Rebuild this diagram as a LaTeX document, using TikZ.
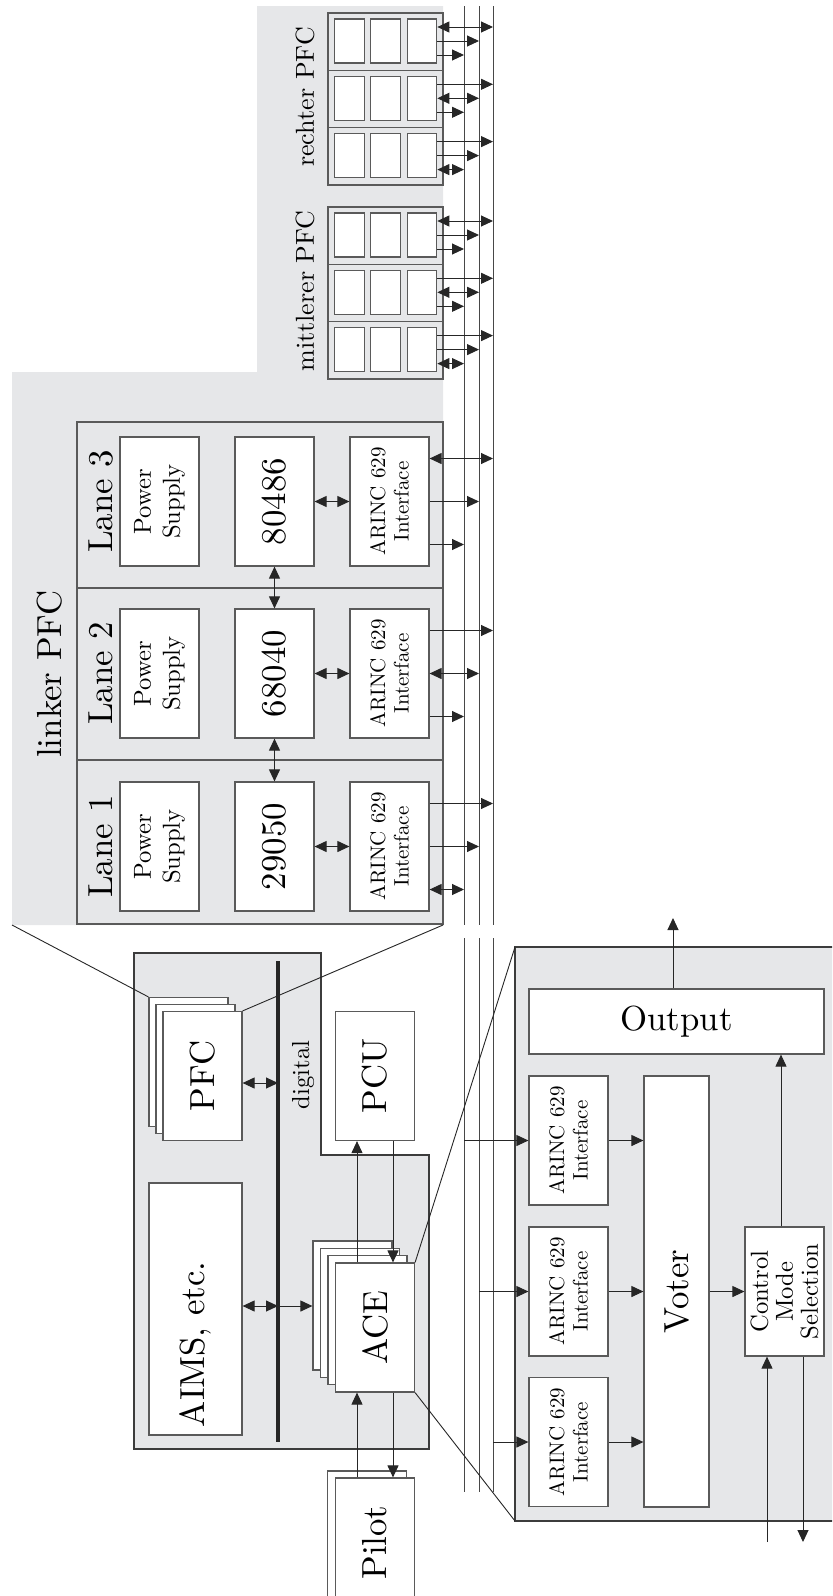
\documentclass[tikz,border=0pt]{standalone}
\usepackage{fontspec}
\setmainfont{lmroman10-regular.otf}
\usepackage{xcolor}
\definecolor{panelgray}{HTML}{E6E7E9}
\definecolor{boxline}{HTML}{5A5A5A}
\definecolor{wire}{HTML}{262626}
\usepackage{tikz}
\usetikzlibrary{arrows.meta}

\newcommand\fsbig{\fontsize{17.4}{20}\selectfont}
\newcommand\fsmid{\fontsize{12.3}{14.5}\selectfont}
\newcommand\fssmall{\fontsize{10.5}{11.7}\selectfont}

\begin{document}
\begin{tikzpicture}[
  x=0.5pt, y=-0.5pt,
  box/.style  ={rectangle,draw=boxline,line width=0.6pt,fill=white,
                inner sep=0pt,align=center},
  unit/.style ={box,rotate=90,minimum width=64.5pt,minimum height=39.5pt},
  cell/.style ={box,minimum width=14.75pt,minimum height=22pt},
  rot/.style  ={rotate=90,inner sep=0pt,align=center},
  frame/.style={draw=boxline,line width=0.6pt,fill=panelgray},
  arr/.style  ={-{Triangle[length=6pt,width=5.5pt]},line width=0.5pt,wire},
  dbl/.style  ={{Triangle[length=6pt,width=5.5pt]}-{Triangle[length=6pt,width=5.5pt]},
                line width=0.5pt,wire},
  busline/.style={line width=0.5pt,wire!85},
  zoomline/.style={line width=0.45pt,wire}
]
\useasboundingbox (0,0) rectangle (832,1596);
\clip (0,0) rectangle (832,1596);

% background of the three PFCs
\fill[panelgray] (257,6) -- (443,6) -- (443,925) coordinate (lpfc-se)
  -- (12,925) coordinate (lpfc-sw) -- (12,372) -- (257,372) -- cycle;

% ARINC 629 buses
\foreach \k/\x in {1/464,2/479,3/493}{
  \coordinate (bus\k) at (\x,6);
  \draw[busline] (\x,6) -- (\x,925) (\x,938) -- (\x,1492);
}

% linker PFC
\node[rot,font=\fsbig] (linker) at (50,674) {linker PFC};
\draw[frame] (77,422) rectangle (443,924);
\draw[boxline,line width=0.6pt] (77,588) -- (443,588) (77,760) -- (443,760);
\foreach \n/\y/\cpu in {1/846.5/29050,2/673.5/68040,3/501.5/80486}{
  \node[rot,font=\fsbig] (lane\n) at (101,\y) {Lane \n};
  \node[unit,font=\fsmid] (ps\n) at (159.5,\y) {Power\\Supply};
  \node[unit,font=\fsbig] (cpu\n) at (274.5,\y) {\cpu};
  \node[unit,font=\fssmall] (arl\n) at (389.5,\y) {ARINC 629\\Interface};
  \draw[dbl] (cpu\n) -- (arl\n);
}
\draw[dbl] (cpu3) -- (cpu2);
\draw[dbl] (cpu2) -- (cpu1);
\foreach \n/\sA/\sB/\sC in {1/arr/arr/dbl,2/arr/dbl/arr,3/dbl/arr/arr}{
  \draw[\sA] ([yshift=21.5pt]arl\n.south) -- ([yshift=21.5pt]arl\n.south -| bus3);
  \draw[\sB] (arl\n.south) -- (arl\n.south -| bus2);
  \draw[\sC] ([yshift=-21.5pt]arl\n.south) -- ([yshift=-21.5pt]arl\n.south -| bus1);
}

% mittlerer and rechter PFC
\foreach \g/\T/\grp in {r/13/rechter PFC,m/207/mittlerer PFC}{
  \node[rot,font=\fontsize{13}{15}\selectfont] (lab\g) at (305,\T+84) {\grp};
  \draw[frame] (328,\T) rectangle (443,\T+172);
  \draw[boxline,line width=0.6pt] (328,\T+57.3) -- (443,\T+57.3)
    (328,\T+114.7) -- (443,\T+114.7);
  \foreach \r/\sA/\sB/\sC in {1/dbl/arr/arr,2/arr/dbl/arr,3/arr/arr/dbl}{
    \pgfmathsetmacro\cy{\T+57.3*(\r-1)+28}
    \node[cell] (\g\r a) at (349.5,\cy) {};
    \node[cell] (\g\r b) at (385.5,\cy) {};
    \node[cell] (\g\r c) at (422,\cy) {};
    \draw[\sA] ([yshift=7pt]\g\r c.east) -- ([yshift=7pt]\g\r c.east -| bus3);
    \draw[\sB] (\g\r c.east) -- (\g\r c.east -| bus2);
    \draw[\sC] ([yshift=-7pt]\g\r c.east) -- ([yshift=-7pt]\g\r c.east -| bus1);
  }
}

% aircraft system
\draw[frame,draw=wire!90] (134,953) -- (321,953) -- (321,1155) -- (429,1155)
  -- (429,1449) -- (134,1449) -- cycle;
\node[unit] (pfc3) at (188.5,1062) {};
\node[unit] (pfc2) at (195.5,1069) {};
\node[unit,font=\fsbig] (pfc) at (202.5,1076) {PFC};
\node[unit,font=\fsbig] (pcu) at (375,1076) {PCU};
\node[box,rot,font=\fsbig,minimum width=126pt,minimum height=46.5pt,
      inner xsep=4pt,text width=118pt,align=left] (aims)
  at (195.5,1309) {AIMS, etc.};
\coordinate (dtop) at (278,961);
\coordinate (dbot) at (278,1442);
\draw[wire,line width=2.35pt] (dtop) -- (dbot);
\node[rot,font=\fsmid] (digital) at (303,1075) {digital};

\node[unit] (ace3) at (352.5,1305.5) {};
\node[unit] (ace2) at (360,1313) {};
\node[unit] (ace1) at (367.5,1320) {};
\node[unit,font=\fsbig] (ace) at (375,1327.5) {ACE};
\node[unit] (pilot2) at (367,1535.5) {};
\node[unit,font=\fsbig] (pilot) at (375,1542.5) {Pilot};

\draw[dbl] ([yshift=-3.5pt]pfc.south) -- ([yshift=-3.5pt]pfc.south -| dtop);
\draw[dbl] ([yshift=1.5pt]aims.south) -- ([yshift=1.5pt]aims.south -| dtop);
\draw[arr] ([yshift=1.5pt]aims.south -| dtop) -- ([yshift=1.5pt]aims.south -| ace3.north);
\draw[arr] ([xshift=-9pt]ace.east) -- ([xshift=-9pt]pcu.west);
\draw[arr] ([xshift=9pt]pcu.west) -- ([xshift=9pt]ace.east);
\draw[arr] ([xshift=-9pt]pilot.east) -- ([xshift=-9pt]ace.west);
\draw[arr] ([xshift=9pt]ace.west) -- ([xshift=9pt]pilot.east);

\draw[zoomline] (lpfc-sw) -- (pfc3.north east);
\draw[zoomline] (lpfc-se) -- (pfc.south east);

% ACE detail
\coordinate (outp-nw) at (515,947);
\coordinate (outp-sw) at (515,1521);
\draw[frame,draw=wire!90] (outp-nw) rectangle (850,1521);
\draw[zoomline] (ace.south east) -- (outp-nw);
\draw[zoomline] (ace.south west) -- (outp-sw);

\node[box,font=\fsbig,minimum width=147.5pt,minimum height=32.5pt] (output)
  at (676.5,1021.5) {Output};
\coordinate (outtip) at (673,918);
\draw[arr] (output.north -| outtip) -- (outtip);
\foreach \i/\y in {1/1140.5,2/1291.5,3/1442}{
  \node[unit,font=\fssmall] (ari\i) at (568.5,\y) {ARINC 629\\Interface};
  \draw[arr] (ari\i.north -| bus\i) -- (ari\i.north);
}
\node[box,rot,font=\fsbig,minimum width=215.5pt,minimum height=32.5pt] (voter)
  at (676.5,1291.5) {Voter};
\foreach \i in {1,2,3} \draw[arr] (ari\i.south) -- (ari\i.south -| voter.north);
\node[unit,font=\fontsize{12.3}{12.5}\selectfont] (cms) at (784.5,1291.5)
  {Control\\Mode\\Selection};
\draw[arr] (voter) -- (cms);
\draw[arr] ([xshift=-1.75pt]cms.east) -- ([xshift=-1.75pt]cms.east |- output.south);
\coordinate (cmsin) at (767,1542);
\coordinate (cmsout) at (803,1542);
\draw[arr] (cmsin) -- (cmsin |- cms.west);
\draw[arr] (cmsout |- cms.west) -- (cmsout);

\end{tikzpicture}
\end{document}
